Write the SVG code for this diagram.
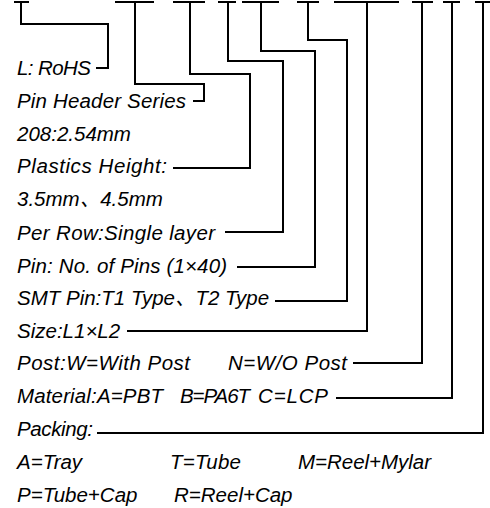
<svg xmlns="http://www.w3.org/2000/svg" width="490" height="508" viewBox="0 0 490 508">
<style>
.t{font-family:"Liberation Sans","Noto Sans CJK SC",sans-serif;font-style:italic;font-size:20.5px;fill:#000}
.c{fill:none;stroke:#000;stroke-width:2}
</style>
<rect width="490" height="508" fill="#fff"/>
<g id="connectors" class="c">
<path d="M14,2H29M21,2V24H108V68H96"/>
<path d="M115,2H154M135,2V84H204V101H193"/>
<path d="M173,2H205M190,2V74H250V168H173"/>
<path d="M218,2H236M228,2V61H283V232H225"/>
<path d="M242,2H279M261,2V51H315V267H237"/>
<path d="M297,2H319M308,2V40H347V301H275"/>
<path d="M334,2H399M367,2V331H127"/>
<path d="M412,2H433M422,2V363H353"/>
<path d="M443,2H460M452,2V398H336"/>
<path d="M475,2H490M483,2V433H97"/>
</g>
<g id="n1"><text class="t" x="17" y="75" textLength="74">L: RoHS</text></g>
<g id="n2"><text class="t" x="17" y="108" textLength="169">Pin Header Series</text></g>
<g id="n3"><text class="t" x="17" y="141">208:2.54mm</text></g>
<g id="n4"><text class="t" x="17" y="173" textLength="150">Plastics Height:</text></g>
<g id="n5"><text class="t" x="17" y="206">3.5mm、4.5mm</text></g>
<g id="n6"><text class="t" x="17" y="240" textLength="198">Per Row:Single layer</text></g>
<g id="n7"><text class="t" x="17" y="273" textLength="210">Pin: No. of Pins (1×40)</text></g>
<g id="n8"><text class="t" x="17" y="305">SMT Pin:T1 Type、T2 Type</text></g>
<g id="n9"><text class="t" x="17" y="338">Size:L1×L2</text></g>
<g id="n10"><text class="t" x="17" y="370" textLength="173">Post:W=With Post</text><text class="t" x="228" y="370" textLength="119">N=W/O Post</text></g>
<g id="n11"><text class="t" x="17" y="403" textLength="146">Material:A=PBT</text><text class="t" x="180" y="403" textLength="70">B=PA6T</text><text class="t" x="258" y="403" textLength="70">C=LCP</text></g>
<g id="n12"><text class="t" x="17" y="436" textLength="76">Packing:</text></g>
<g id="n13"><text class="t" x="17" y="469">A=Tray</text><text class="t" x="170" y="469" textLength="71">T=Tube</text><text class="t" x="298" y="469" textLength="133">M=Reel+Mylar</text></g>
<g id="n14"><text class="t" x="17" y="502">P=Tube+Cap</text><text class="t" x="174" y="502">R=Reel+Cap</text></g>
</svg>
